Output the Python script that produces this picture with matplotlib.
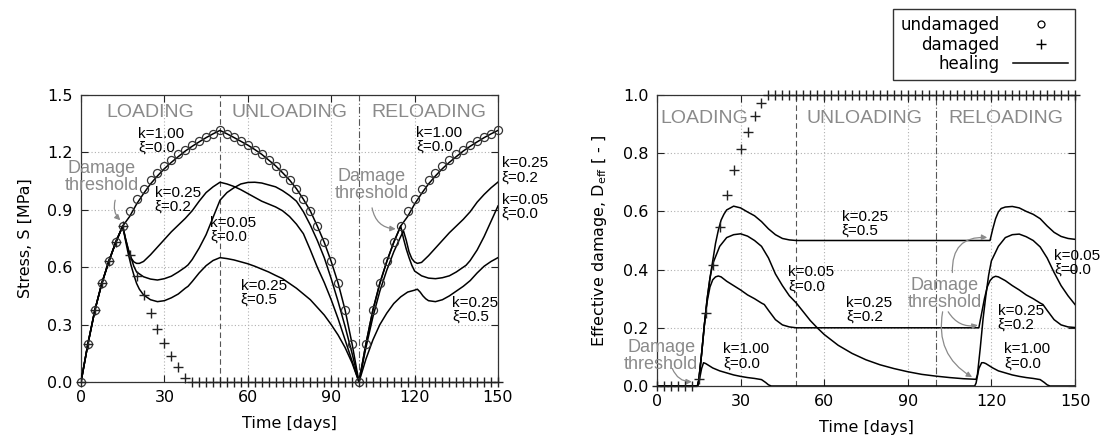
import numpy as np
import matplotlib
matplotlib.use("Agg")
import matplotlib.pyplot as plt
from matplotlib.lines import Line2D

# ---- data ----
t_pts = np.arange(0, 152.5, 2.5)

stress_undamaged = [0.0, 0.20, 0.376, 0.516, 0.63, 0.73, 0.815, 0.894, 0.955, 1.01, 1.056,
                    1.094, 1.13, 1.16, 1.19, 1.215, 1.238, 1.258, 1.278, 1.297, 1.315,
                    1.297, 1.278, 1.258, 1.238, 1.215, 1.19, 1.16, 1.13, 1.094, 1.056,
                    1.01, 0.955, 0.894, 0.815, 0.73, 0.63, 0.516, 0.376, 0.20, 0.0,
                    0.20, 0.376, 0.516, 0.63, 0.73, 0.815, 0.894, 0.955, 1.01, 1.056,
                    1.094, 1.13, 1.16, 1.19, 1.215, 1.238, 1.258, 1.278, 1.297, 1.315]
stress_damaged = [0.0, 0.20, 0.376, 0.516, 0.63, 0.73, 0.815, 0.664, 0.554, 0.455, 0.359,
                  0.277, 0.205, 0.138, 0.077, 0.023] + [0.0] * 45

damage_damaged = [0.0, 0.0, 0.0, 0.0, 0.0, 0.0, 0.023, 0.25, 0.417, 0.548, 0.655,
                  0.741, 0.813, 0.873, 0.929, 0.973] + [1.0] * 45

# stress, healing curves
s_k100_t = [0, 2.5, 5, 7.5, 10, 12.5, 15, 17.5, 20, 22.5, 25, 27.5, 30, 32.5, 35, 37.5, 40,
            42.5, 45, 47.5, 50, 52.5, 55, 57.5, 60, 62.5, 65, 67.5, 70, 72.5, 75, 77.5, 80,
            82.5, 85, 87.5, 90, 92.5, 95, 97.5, 100, 102.5, 105, 107.5, 110, 112.5, 115,
            117.5, 120, 122.5, 125, 127.5, 130, 132.5, 135, 137.5, 140, 142.5, 145, 147.5, 150]
s_k100 = [0.0, 0.20, 0.376, 0.516, 0.63, 0.73, 0.815, 0.865, 0.93, 0.985, 1.035, 1.077,
          1.115, 1.148, 1.178, 1.207, 1.232, 1.255, 1.277, 1.297, 1.315,
          1.297, 1.278, 1.258, 1.238, 1.215, 1.19, 1.16, 1.13, 1.094, 1.056,
          1.01, 0.955, 0.894, 0.815, 0.73, 0.63, 0.516, 0.376, 0.20, 0.0,
          0.20, 0.376, 0.516, 0.63, 0.73, 0.815, 0.865, 0.93, 0.985, 1.035, 1.077,
          1.115, 1.148, 1.178, 1.207, 1.232, 1.255, 1.277, 1.297, 1.315]

s_k025a_t = [0, 2.5, 5, 7.5, 10, 12.5, 15, 16, 17, 18, 19, 20, 21, 22.5, 25, 27.5, 30, 32.5,
             35, 37.5, 40, 42.5, 45, 47.5, 50, 52.5, 55, 57.5, 60, 62.5, 65, 67.5, 70, 72.5,
             75, 77.5, 80, 82.5, 85, 87.5, 90, 92.5, 95, 97.5, 100, 102.5, 105, 107.5, 110,
             112.5, 115, 116, 117, 118, 119, 120, 121, 122.5, 125, 127.5, 130, 132.5, 135,
             137.5, 140, 142.5, 145, 147.5, 150]
s_k025a = [0.0, 0.20, 0.376, 0.516, 0.63, 0.73, 0.815, 0.75, 0.69, 0.648, 0.628, 0.62, 0.62,
           0.63, 0.665, 0.705, 0.745, 0.785, 0.82, 0.855, 0.895, 0.945, 0.99, 1.02, 1.044,
           1.035, 1.022, 1.005, 0.985, 0.965, 0.945, 0.93, 0.915, 0.895, 0.865, 0.825, 0.775,
           0.69, 0.6, 0.52, 0.43, 0.33, 0.22, 0.11, 0.0,
           0.18, 0.34, 0.475, 0.585, 0.68, 0.76, 0.79, 0.74, 0.68, 0.645, 0.627, 0.62,
           0.625, 0.66, 0.7, 0.74, 0.78, 0.815, 0.85, 0.89, 0.94, 0.98, 1.015, 1.045]

s_k005_t = [0, 2.5, 5, 7.5, 10, 12.5, 15, 16, 17, 18, 19, 20, 22.5, 25, 27.5, 30, 32.5, 35,
            37.5, 38.5, 40, 42.5, 45, 47.5, 50, 52.5, 55, 57.5, 60, 62.5, 65, 67.5, 70, 72.5,
            75, 77.5, 80, 82.5, 85, 87.5, 90, 92.5, 95, 97.5, 100, 102.5, 105, 107.5, 110,
            112.5, 115, 116, 117, 118, 119, 120, 122.5, 125, 127.5, 130, 132.5, 135, 137.5,
            138.5, 140, 142.5, 145, 147.5, 150]
s_k005 = [0.0, 0.20, 0.376, 0.516, 0.63, 0.73, 0.815, 0.75, 0.695, 0.65, 0.605, 0.575, 0.55,
          0.538, 0.533, 0.54, 0.553, 0.575, 0.6, 0.612, 0.64, 0.7, 0.77, 0.86, 0.95,
          0.99, 1.015, 1.035, 1.043, 1.044, 1.04, 1.03, 1.02, 1.0, 0.975, 0.945, 0.89,
          0.82, 0.74, 0.65, 0.54, 0.42, 0.29, 0.15, 0.0,
          0.20, 0.376, 0.516, 0.63, 0.73, 0.815, 0.75, 0.695, 0.65, 0.61, 0.58, 0.555,
          0.543, 0.54, 0.545, 0.555, 0.575, 0.6, 0.61, 0.635, 0.69, 0.76, 0.84, 0.92]

s_k025b_t = [0, 2.5, 5, 7.5, 10, 12.5, 15, 16, 17, 18, 19, 20, 21, 22.5, 25, 27.5, 30, 32.5,
             35, 37.5, 38.5, 40, 42.5, 45, 47.5, 50, 52.5, 55, 57.5, 60, 62.5, 65, 67.5, 70,
             72.5, 75, 77.5, 80, 82.5, 85, 87.5, 90, 92.5, 95, 97.5, 100, 102.5, 105, 107.5,
             110, 112.5, 115, 117.5, 120, 121, 122, 123, 124, 125, 127.5, 130, 132.5, 135,
             137.5, 140, 142.5, 145, 147.5, 150]
s_k025b = [0.0, 0.20, 0.376, 0.516, 0.63, 0.73, 0.815, 0.74, 0.67, 0.61, 0.56, 0.515, 0.485,
           0.455, 0.43, 0.42, 0.425, 0.44, 0.46, 0.49, 0.5, 0.525, 0.57, 0.608, 0.635, 0.65,
           0.645, 0.638, 0.628, 0.618, 0.605, 0.59, 0.575, 0.557, 0.54, 0.515, 0.49, 0.46,
           0.43, 0.39, 0.35, 0.3, 0.245, 0.18, 0.1, 0.0,
           0.12, 0.22, 0.3, 0.36, 0.41, 0.445, 0.47, 0.48, 0.485, 0.47, 0.45, 0.435, 0.425,
           0.42, 0.43, 0.45, 0.475, 0.5, 0.53, 0.57, 0.605, 0.63, 0.65]

# effective damage, healing curves
d_k025b_t = [0, 14.5, 15, 16, 17, 18, 19, 20, 21, 22, 23, 24, 25, 27.5, 30, 32.5, 35, 37.5,
             40, 42.5, 45, 47.5, 50, 119.5, 120.5, 121.5, 122.5, 123.5, 125, 127.5, 130, 132.5,
             135, 137.5, 140, 142.5, 145, 147.5, 150]
d_k025b = [0.0, 0.0, 0.02, 0.11, 0.21, 0.3, 0.37, 0.43, 0.49, 0.535, 0.57, 0.59, 0.605, 0.618,
           0.612, 0.598, 0.585, 0.565, 0.54, 0.52, 0.507, 0.502, 0.5, 0.5, 0.54, 0.575, 0.598,
           0.61, 0.615, 0.617, 0.612, 0.6, 0.59, 0.575, 0.55, 0.528, 0.514, 0.507, 0.504]

d_k005_t = [0, 14.5, 15, 16, 17, 18, 19, 20, 22.5, 25, 27.5, 30, 32.5, 35, 37.5, 40, 42.5, 45,
            47.5, 50, 52.5, 55, 57.5, 60, 65, 70, 75, 80, 85, 90, 95, 100, 105, 110, 114.5,
            115, 116, 117, 118, 119, 120, 122.5, 125, 127.5, 130, 132.5, 135, 137.5, 140,
            142.5, 145, 147.5, 150]
d_k005 = [0.0, 0.0, 0.02, 0.11, 0.21, 0.3, 0.37, 0.42, 0.48, 0.51, 0.52, 0.523, 0.515, 0.5,
          0.48, 0.44, 0.385, 0.345, 0.31, 0.285, 0.255, 0.225, 0.2, 0.177, 0.14, 0.112, 0.09,
          0.073, 0.06, 0.049, 0.04, 0.034, 0.029, 0.025, 0.023,
          0.04, 0.13, 0.23, 0.31, 0.38, 0.43, 0.48, 0.51, 0.52, 0.522, 0.513, 0.5, 0.478,
          0.44, 0.39, 0.345, 0.31, 0.28]

d_k025a_t = [0, 14.5, 15, 16, 17, 18, 19, 20, 21, 22, 23, 25, 27.5, 30, 32.5, 35, 37.5, 38.5,
             40, 42.5, 45, 47.5, 50, 115.5, 116.5, 117.5, 118.5, 119.5, 120.5, 121.5, 122.5,
             125, 127.5, 130, 132.5, 135, 137.5, 138.5, 140, 142.5, 145, 147.5, 150]
d_k025a = [0.0, 0.0, 0.02, 0.11, 0.21, 0.29, 0.34, 0.365, 0.375, 0.378, 0.375, 0.36, 0.345,
           0.33, 0.313, 0.3, 0.285, 0.28, 0.26, 0.228, 0.21, 0.203, 0.2, 0.2, 0.25, 0.3, 0.34,
           0.362, 0.373, 0.377, 0.375, 0.362, 0.345, 0.33, 0.313, 0.3, 0.285, 0.28, 0.26,
           0.228, 0.21, 0.203, 0.201]

d_k100_t = [0, 14.5, 15, 16, 16.7, 17.5, 20, 22.5, 25, 27.5, 30, 32.5, 35, 37.5, 39, 40, 41,
            114, 114.5, 115.5, 116.5, 117.2, 118, 120.5, 122.5, 125, 127.5, 130, 132.5, 135,
            137.5, 139, 140, 141, 150]
d_k100 = [0.0, 0.0, 0.01, 0.06, 0.08, 0.077, 0.062, 0.052, 0.045, 0.038, 0.033, 0.029, 0.026,
          0.022, 0.012, 0.004, 0.0, 0.0, 0.01, 0.06, 0.08, 0.08, 0.077, 0.062, 0.052, 0.045,
          0.038, 0.033, 0.029, 0.026, 0.022, 0.012, 0.004, 0.0, 0.0]

LW = 1.1
GREY = "#8a8a8a"
SANS = ["Liberation Sans", "DejaVu Sans"]
TXT = dict(family=SANS, fontsize=11, color="black", ha="left", va="top", linespacing=1.0)
GTXT = dict(family=SANS, fontsize=13, color=GREY, ha="center", va="center",
            linespacing=1.0)
PHASE = dict(family=SANS, fontsize=14, color=GREY, va="center")

plt.rcParams["font.family"] = ["DejaVu Sans"]
plt.rcParams["mathtext.fontset"] = "dejavusans"

fig = plt.figure(figsize=(11.02, 4.48), dpi=100)
W, H = 1102.0, 448.0
ax1 = fig.add_axes([81 / W, 1 - 382 / H, (498 - 81) / W, (382 - 95) / H])
ax2 = fig.add_axes([657 / W, 1 - 386 / H, (1075 - 657) / W, (386 - 95) / H])


def style(ax, yticks):
    ax.set_xlim(0, 150)
    ax.set_xticks([0, 30, 60, 90, 120, 150])
    ax.set_yticks(yticks)
    ax.set_ylim(yticks[0], yticks[-1])
    ax.yaxis.set_major_formatter(matplotlib.ticker.FormatStrFormatter("%.1f"))
    ax.grid(True, color="#b0b0b0", linestyle=(0, (1, 2)), linewidth=0.8)
    ax.tick_params(direction="in", top=True, right=True, length=5, labelsize=11.5,
                   width=0.8, pad=6, colors="#222222")
    for sp in ax.spines.values():
        sp.set_color("#333333")
        sp.set_linewidth(0.9)
    ax.axvline(50, color="#555555", lw=0.8, ls=(0, (5, 3)), zorder=1)
    ax.axvline(100, color="#555555", lw=0.8, ls=(0, (6, 2, 1, 2)), zorder=1)
    ax.set_xlabel("Time [days]", fontsize=11.5, labelpad=8)
    for lab in ax.get_xticklabels() + ax.get_yticklabels():
        lab.set_color("black")


# ---- left: stress ----
style(ax1, [0.0, 0.3, 0.6, 0.9, 1.2, 1.5])
ax1.set_ylabel("Stress, S [MPa]", fontsize=11.5, labelpad=10)
for tt, vv in [(s_k100_t, s_k100), (s_k025a_t, s_k025a), (s_k005_t, s_k005),
               (s_k025b_t, s_k025b)]:
    ax1.plot(tt, vv, color="black", lw=LW, zorder=3)
ax1.plot(t_pts, stress_undamaged, ls="none", marker="o", ms=5.8, mfc="none", mec="#333333",
         mew=0.9, zorder=4, clip_on=False)
ax1.plot(t_pts, stress_damaged, ls="none", marker="+", ms=6.5, mec="#222222", mew=1.0,
         zorder=4, clip_on=False)

ax1.text(25, 1.41, "LOADING", ha="center", **PHASE)
ax1.text(75, 1.41, "UNLOADING", ha="center", **PHASE)
ax1.text(125, 1.41, "RELOADING", ha="center", **PHASE)

ax1.text(20.5, 1.335, "k=1.00\nξ=0.0", **TXT)
ax1.text(26.5, 1.025, "k=0.25\nξ=0.2", **TXT)
ax1.text(46.5, 0.87, "k=0.05\nξ=0.0", **TXT)
ax1.text(57.5, 0.54, "k=0.25\nξ=0.5", **TXT)
ax1.text(120.5, 1.34, "k=1.00\nξ=0.0", **TXT)
ax1.text(151.3, 1.18, "k=0.25\nξ=0.2", clip_on=False, **TXT)
ax1.text(151.3, 0.99, "k=0.05\nξ=0.0", clip_on=False, **TXT)
ax1.text(133.5, 0.45, "k=0.25\nξ=0.5", **TXT)

arrow = dict(arrowstyle="-|>", color=GREY, lw=0.9, mutation_scale=8, shrinkA=0, shrinkB=1)
ax1.text(7.4, 1.07, "Damage\nthreshold", **GTXT)
ax1.annotate("", xy=(14.5, 0.84), xytext=(12.3, 0.95),
             arrowprops=dict(connectionstyle="arc3,rad=0.3", **arrow))
ax1.text(104.5, 1.03, "Damage\nthreshold", **GTXT)
ax1.annotate("", xy=(113.7, 0.8), xytext=(104.7, 0.91),
             arrowprops=dict(connectionstyle="arc3,rad=0.4", **arrow))

# ---- right: effective damage ----
style(ax2, [0.0, 0.2, 0.4, 0.6, 0.8, 1.0])
ax2.set_ylabel("Effective damage, D$_{\\mathrm{eff}}$ [ - ]", fontsize=11.5, labelpad=10)
for tt, vv in [(d_k025b_t, d_k025b), (d_k005_t, d_k005), (d_k025a_t, d_k025a),
               (d_k100_t, d_k100)]:
    ax2.plot(tt, vv, color="black", lw=LW, zorder=3)
ax2.plot(t_pts, damage_damaged, ls="none", marker="+", ms=6.5, mec="#222222", mew=1.0,
         zorder=4, clip_on=False)

ax2.text(1.2, 0.92, "LOADING", ha="left", **PHASE)
ax2.text(74.3, 0.92, "UNLOADING", ha="center", **PHASE)
ax2.text(125.1, 0.92, "RELOADING", ha="center", **PHASE)

ax2.text(66.3, 0.605, "k=0.25\nξ=0.5", **TXT)
ax2.text(47.1, 0.415, "k=0.05\nξ=0.0", **TXT)
ax2.text(68.0, 0.31, "k=0.25\nξ=0.2", **TXT)
ax2.text(23.8, 0.15, "k=1.00\nξ=0.0", **TXT)
ax2.text(142.5, 0.472, "k=0.05\nξ=0.0", clip_on=False, **TXT)
ax2.text(122.3, 0.283, "k=0.25\nξ=0.2", **TXT)
ax2.text(124.7, 0.15, "k=1.00\nξ=0.0", **TXT)

ax2.text(1.5, 0.103, "Damage\nthreshold", **GTXT)
ax2.annotate("", xy=(13.0, 0.015), xytext=(5.5, 0.06),
             arrowprops=dict(connectionstyle="arc3,rad=0.35", **arrow))
ax2.text(103.3, 0.317, "Damage\nthreshold", **GTXT)
ax2.annotate("", xy=(119.0, 0.51), xytext=(106.0, 0.39),
             arrowprops=dict(connectionstyle="arc3,rad=-0.55", **arrow))
ax2.annotate("", xy=(115.6, 0.21), xytext=(104.5, 0.255),
             arrowprops=dict(connectionstyle="arc3,rad=0.35", **arrow))
ax2.annotate("", xy=(113.5, 0.028), xytext=(102.5, 0.255),
             arrowprops=dict(connectionstyle="arc3,rad=0.35", **arrow))

handles = [Line2D([], [], ls="none", marker="o", ms=5, mfc="none", mec="black", mew=0.9),
           Line2D([], [], ls="none", marker="+", ms=7, mec="black", mew=1.0),
           Line2D([], [], color="black", lw=LW)]
fig.legend(handles, ["undamaged", "damaged", "healing"], loc="upper right",
           bbox_to_anchor=(1075 / W, 1 - 9 / H), markerfirst=False, fontsize=12,
           frameon=True, fancybox=False, edgecolor="#333333", framealpha=1,
           handlelength=3.3, handletextpad=0.8, labelspacing=0.1, borderpad=0.42,
           borderaxespad=0)

fig.savefig("out.png", dpi=100)
